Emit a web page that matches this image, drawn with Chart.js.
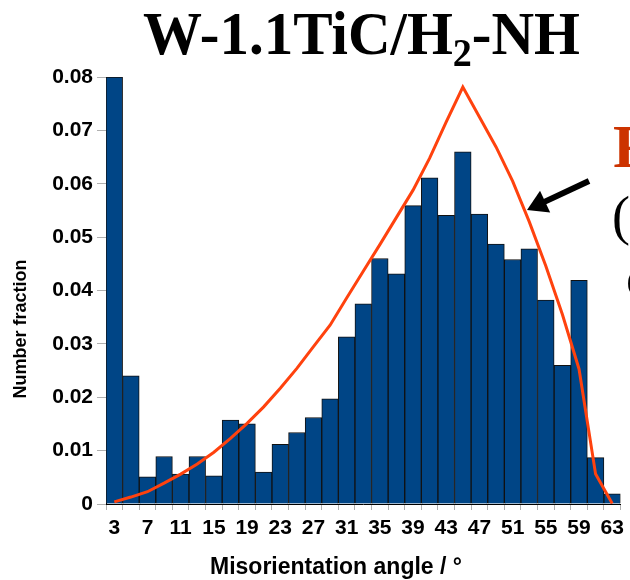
<!DOCTYPE html>
<html>
<head>
<meta charset="utf-8">
<title>W-1.1TiC/H2-NH misorientation</title>
<script src="https://cdn.jsdelivr.net/npm/chart.js@4.4.0/dist/chart.umd.min.js"></script>
<style>
  html, body { margin: 0; padding: 0; background: #fff; }
  #wrap { width: 630px; height: 580px; }
</style>
</head>
<body>
<div id="wrap"><canvas id="misoChart" width="630" height="580"></canvas></div>
<script>
// misorientation bins (deg), bin centres every 2 deg
const angles = [3, 5, 7, 9, 11, 13, 15, 17, 19, 21, 23, 25, 27, 29, 31, 33,
  35, 37, 39, 41, 43, 45, 47, 49, 51, 53, 55, 57, 59, 61, 63];

// measured number fraction (bars)
const fractions = [0.0800, 0.0240, 0.0051, 0.0089, 0.0056, 0.0089, 0.0053, 0.0157,
  0.0150, 0.0060, 0.0112, 0.0134, 0.0162, 0.0197, 0.0313, 0.0375,
  0.0460, 0.0431, 0.0559, 0.0611, 0.0541, 0.0660, 0.0543, 0.0487,
  0.0458, 0.0478, 0.0382, 0.0260, 0.0419, 0.0087, 0.0019];

// random (Mackenzie) distribution, orange curve
const mackenzie = [0.0004, 0.0013, 0.0023, 0.0039, 0.0056, 0.0075, 0.0097, 0.0123,
  0.0151, 0.0182, 0.0217, 0.0254, 0.0295, 0.0335, 0.0386, 0.0436,
  0.0486, 0.0537, 0.0588, 0.0648, 0.0716, 0.0781, 0.0725, 0.0669,
  0.0605, 0.0529, 0.0446, 0.0355, 0.0253, 0.0056, 0.0001];

const yTickLabels = ['0', '0.01', '0.02', '0.03', '0.04', '0.05', '0.06', '0.07', '0.08'];

const SANS = '"Liberation Sans", Arial, sans-serif';
const SERIF = '"Liberation Serif", "Times New Roman", serif';

// title, axis titles and the clipped slide text / arrow on the right
const decorations = {
  id: 'decorations',
  afterDraw(chart) {
    const ctx = chart.ctx;
    ctx.save();

    // main title with subscript 2
    const parts = [
      { t: 'W-1.1TiC/H', f: 'bold 62px ' + SERIF, dy: 0 },
      { t: '2', f: 'bold 40px ' + SERIF, dy: 12 },
      { t: '-NH', f: 'bold 62px ' + SERIF, dy: 0 }
    ];
    let total = 0;
    parts.forEach(p => { ctx.font = p.f; p.w = ctx.measureText(p.t).width; total += p.w; });
    const sx = 437 / total;
    ctx.save();
    ctx.translate(143, 54);
    ctx.scale(sx, 1);
    ctx.fillStyle = '#000';
    ctx.textBaseline = 'alphabetic';
    let x = 0;
    parts.forEach(p => { ctx.font = p.f; ctx.fillText(p.t, x, p.dy); x += p.w; });
    ctx.restore();

    // axis titles
    ctx.fillStyle = '#000';
    ctx.textAlign = 'center';
    ctx.textBaseline = 'middle';
    ctx.font = 'bold 23px ' + SANS;
    ctx.fillText('Misorientation angle / °', 336, 568);
    ctx.save();
    ctx.translate(21, 329);
    ctx.rotate(-Math.PI / 2);
    ctx.font = 'bold 18px ' + SANS;
    ctx.fillText('Number fraction', 0, 0);
    ctx.restore();

    // clipped text from the slide on the right edge
    ctx.textAlign = 'left';
    ctx.textBaseline = 'alphabetic';
    ctx.fillStyle = '#cc3300';
    ctx.font = 'bold 62px ' + SERIF;
    ctx.fillText('R', 613, 167);
    ctx.fillStyle = '#000';
    ctx.font = '54px ' + SERIF;
    ctx.fillText('(', 612, 234);
    ctx.fillText('c', 626, 296);

    // arrow pointing at the curve
    const tip = { x: 527, y: 210 }, tail = { x: 589, y: 181 };
    const dx = tip.x - tail.x, dy = tip.y - tail.y;
    const len = Math.hypot(dx, dy), ux = dx / len, uy = dy / len;
    const hl = 20, hw = 12;
    const bx = tip.x - ux * hl, by = tip.y - uy * hl;
    ctx.strokeStyle = '#000';
    ctx.lineWidth = 6;
    ctx.beginPath();
    ctx.moveTo(tail.x, tail.y);
    ctx.lineTo(bx + ux * 2, by + uy * 2);
    ctx.stroke();
    ctx.beginPath();
    ctx.moveTo(tip.x, tip.y);
    ctx.lineTo(bx - uy * hw, by + ux * hw);
    ctx.lineTo(bx + uy * hw, by - ux * hw);
    ctx.closePath();
    ctx.fill();

    ctx.restore();
  }
};

const ctx = document.getElementById('misoChart').getContext('2d');
new Chart(ctx, {
  type: 'bar',
  data: {
    labels: angles,
    datasets: [{
      type: 'line',
      label: 'Mackenzie',
      data: mackenzie,
      borderColor: '#ff420e',
      borderWidth: 3,
      pointRadius: 0,
      tension: 0,
      fill: false,
      order: 0
    }, {
      label: 'W-1.1TiC/H2-NH',
      data: fractions,
      backgroundColor: '#004586',
      borderColor: '#111111',
      borderWidth: 1,
      categoryPercentage: 1.0,
      barPercentage: 1.0,
      order: 1
    }]
  },
  options: {
    responsive: false,
    animation: false,
    devicePixelRatio: 1,
    layout: { padding: { top: 77, right: 7, left: 0, bottom: 0 } },
    plugins: {
      legend: { display: false },
      tooltip: { enabled: false }
    },
    scales: {
      x: {
        offset: true,
        grid: { offset: true, drawOnChartArea: false, drawTicks: true, tickLength: 6, color: '#b0b0b0' },
        border: { display: true, color: '#000', width: 1 },
        ticks: {
          autoSkip: false,
          maxRotation: 0,
          padding: 6,
          color: '#000',
          font: { family: SANS, size: 21, weight: 'bold' },
          callback: function(value, index) { return index % 2 === 0 ? String(angles[index]) : ''; }
        },
        afterFit: function(scale) { scale.height = 76; }
      },
      y: {
        min: 0,
        max: 0.08,
        grid: { drawOnChartArea: false, drawTicks: true, tickLength: 9, color: '#b0b0b0' },
        border: { display: true, color: '#000', width: 1 },
        ticks: {
          stepSize: 0.01,
          padding: 4,
          color: '#000',
          font: { family: SANS, size: 21, weight: 'bold' },
          callback: function(value, index) { return yTickLabels[index]; }
        },
        afterFit: function(scale) { scale.width = 106; }
      }
    }
  },
  plugins: [decorations]
});
</script>
</body>
</html>
